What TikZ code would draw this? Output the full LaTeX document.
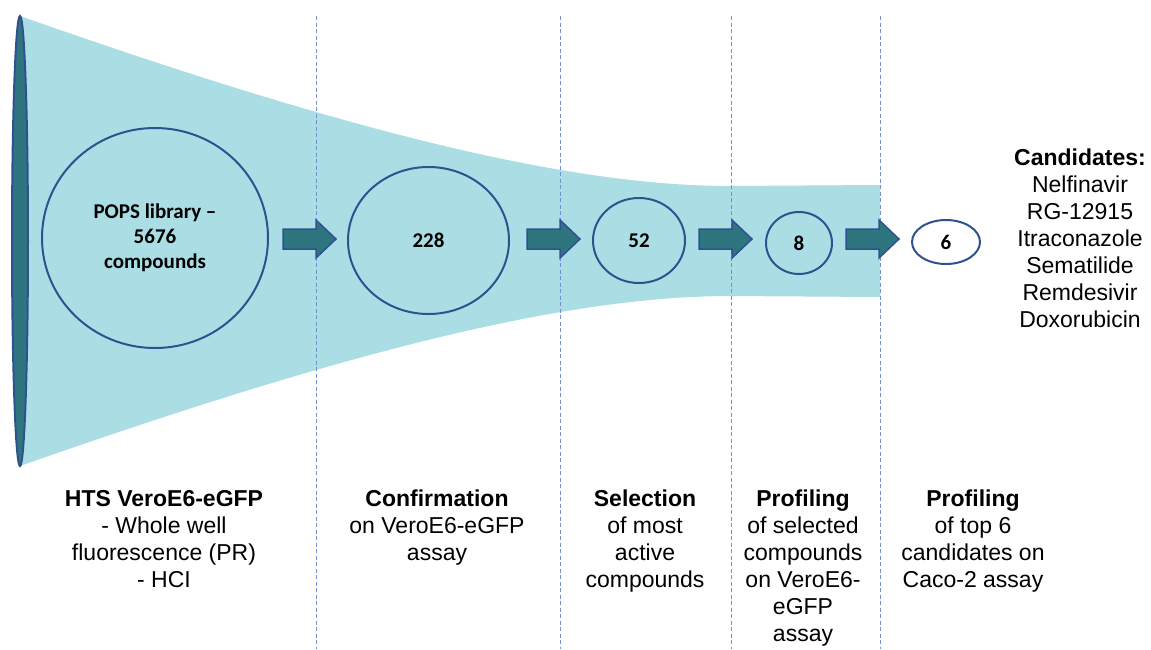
\documentclass[tikz,border=0pt]{standalone}
\usepackage{fontspec}
\setmainfont{Liberation Sans}
\newfontfamily\calibri{Carlito}
\usetikzlibrary{shapes.geometric}

\definecolor{funnelfill}{RGB}{171,221,229}
\definecolor{tealfill}{RGB}{46,117,127}
\definecolor{edgeblue}{RGB}{47,82,143}
\definecolor{dashblue}{RGB}{115,145,205}

\tikzset{
  stage/.style={ellipse, draw=edgeblue, line width=2pt, fill=funnelfill, inner sep=0pt,
                font=\calibri\bfseries\fontsize{21}{25}\selectfont, align=center},
  divider/.style={dashblue, line width=1pt, dash pattern=on 4pt off 2.5pt},
  blockarrow/.style={draw=edgeblue, line width=1.5pt, fill=tealfill, line join=miter},
  caption/.style={anchor=north, inner sep=0pt, align=center,
                  font=\fontsize{23}{27}\selectfont},
  fatarrow/.pic={
    \path[blockarrow] (0,-10) -- (33,-10) -- (33,-19) -- (53,0) -- (33,19)
      -- (33,10) -- (0,10) -- cycle;
  }
}

\begin{document}
\begin{tikzpicture}[x=1pt, y=-1pt]
\useasboundingbox (0,0) rectangle (1151,649);

% funnel body
\fill[funnelfill] (20,16) .. controls (330,125) and (560,186) .. (730,186)
  -- (880,185) -- (880,297) -- (730,296)
  .. controls (560,296) and (330,357) .. (20,466) -- cycle;

% stage dividers
\foreach \x/\n in {316/d1, 560/d2, 731/d3, 880/d4}
  \draw[divider] (\x,16) coordinate (\n top) -- (\x,649) coordinate (\n bot);

% funnel mouth
\path[fill=tealfill, draw=edgeblue, line width=2pt] (20,241) ellipse [x radius=8, y radius=225];

% screening stages
\node[stage, minimum width=226, minimum height=220] (c1) at (155,238)
  {POPS library –\\5676\\compounds};
\node[stage, minimum width=161, minimum height=147] (c2) at (428.5,240.5) {228};
\node[stage, minimum width=92, minimum height=85] (c3) at (639,240.5) {52};
\node[stage, minimum width=66, minimum height=62] (c4) at (799,243) {8};
\node[stage, fill=white, minimum width=68, minimum height=44] (c5) at (946,242) {6};

% block arrows between stages
\pic (a1) at (283,239) {fatarrow};
\pic (a2) at (527,239) {fatarrow};
\pic (a3) at (699,239) {fatarrow};
\pic (a4) at (846,239) {fatarrow};

% candidate list
\node[caption] (cand) at (1080,149)
  {\textbf{Candidates:}\\Nelfinavir\\RG-12915\\Itraconazole\\Sematilide\\Remdesivir\\Doxorubicin};

% stage descriptions
\node[caption] (t1) at (164,490)
  {\textbf{HTS VeroE6-eGFP}\\- Whole well\\fluorescence (PR)\\- HCI};
\node[caption] (t2) at (437,490)
  {\textbf{Confirmation}\\on VeroE6-eGFP\\assay};
\node[caption] (t3) at (645,490)
  {\textbf{Selection}\\of most\\active\\compounds};
\node[caption] (t4) at (803,490)
  {\textbf{Profiling}\\of selected\\compounds\\on VeroE6-\\eGFP\\assay};
\node[caption] (t5) at (973,490)
  {\textbf{Profiling}\\of top 6\\candidates on\\Caco-2 assay};
\end{tikzpicture}
\end{document}
